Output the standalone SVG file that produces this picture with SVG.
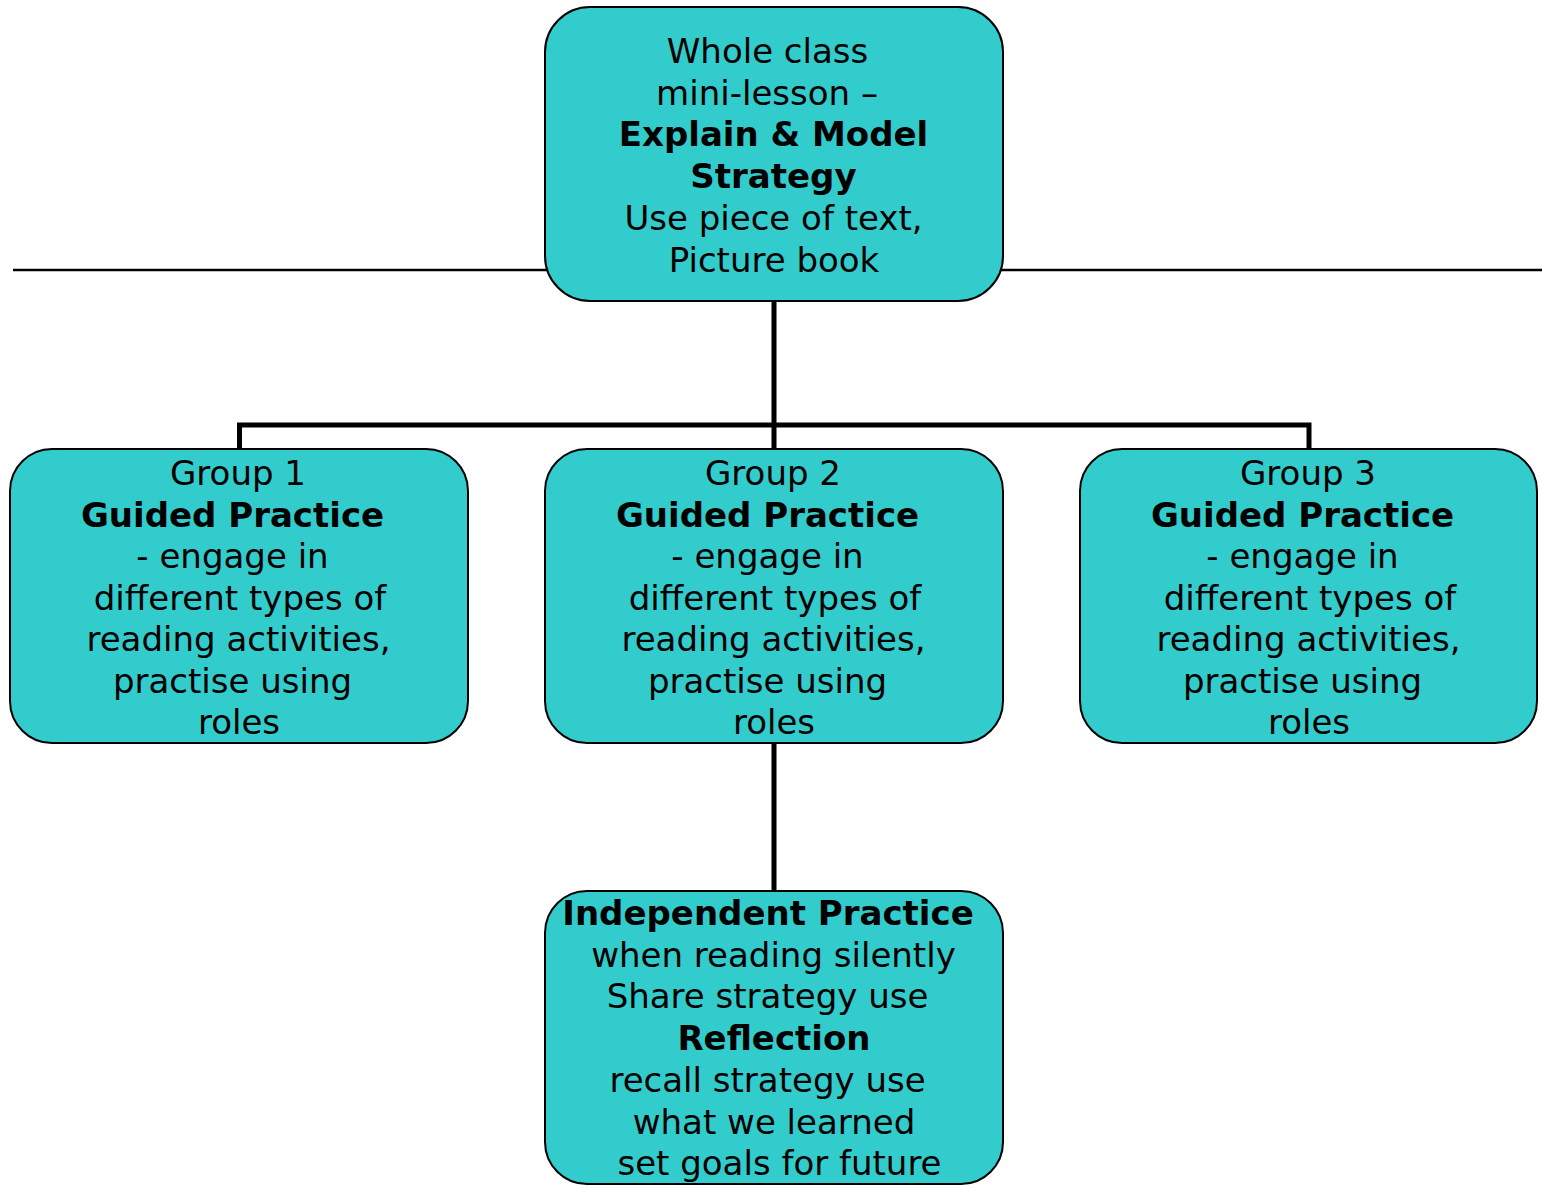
<svg xmlns="http://www.w3.org/2000/svg" width="1542" height="1185" viewBox="0 0 1542 1185">
<style>
.box{fill:#33CCCC;stroke:#000;stroke-width:2}
.conn{stroke:#000;stroke-width:5;fill:none}
.rule{stroke:#000;stroke-width:2.5;fill:none}
text{font-family:"DejaVu Sans","Verdana",sans-serif;font-size:34px;fill:#000;text-anchor:middle}
.b{font-weight:bold}
</style>
<rect width="1542" height="1185" fill="#fff"/>
<g id="connectors">
<line class="rule" x1="13" y1="270" x2="1542" y2="270"/>
<line class="conn" x1="774" y1="301" x2="774" y2="449"/>
<polyline class="conn" points="239.5,449 239.5,425 1309,425 1309,449"/>
<line class="conn" x1="774" y1="743" x2="774" y2="891"/>
</g>
<g id="node-top">
<rect class="box" x="545" y="7" width="458" height="294" rx="45" ry="45"/>
<text x="767.5" y="63">Whole class</text>
<text x="767" y="104.7">mini-lesson –</text>
<text x="773.5" y="146.4" class="b">Explain &amp; Model</text>
<text x="773.5" y="188" class="b">Strategy</text>
<text x="773.5" y="229.8">Use piece of text,</text>
<text x="774" y="271.5">Picture book</text>
</g>
<g id="node-group1">
<rect class="box" x="10" y="449" width="458" height="294" rx="42" ry="42"/>
<text x="238" y="485">Group 1</text>
<text x="232.5" y="526.5" class="b">Guided Practice</text>
<text x="232.5" y="568">- engage in</text>
<text x="240" y="609.5">different types of</text>
<text x="238.5" y="651">reading activities,</text>
<text x="232.5" y="692.5">practise using</text>
<text x="239" y="734">roles</text>
</g>
<g id="node-group2">
<rect class="box" x="545" y="449" width="458" height="294" rx="42" ry="42"/>
<text x="773" y="485">Group 2</text>
<text x="767.5" y="526.5" class="b">Guided Practice</text>
<text x="767.5" y="568">- engage in</text>
<text x="775" y="609.5">different types of</text>
<text x="773.5" y="651">reading activities,</text>
<text x="767.5" y="692.5">practise using</text>
<text x="774" y="734">roles</text>
</g>
<g id="node-group3">
<rect class="box" x="1080" y="449" width="457" height="294" rx="42" ry="42"/>
<text x="1308" y="485">Group 3</text>
<text x="1302.5" y="526.5" class="b">Guided Practice</text>
<text x="1302.5" y="568">- engage in</text>
<text x="1310" y="609.5">different types of</text>
<text x="1308.5" y="651">reading activities,</text>
<text x="1302.5" y="692.5">practise using</text>
<text x="1309" y="734">roles</text>
</g>
<g id="node-independent">
<rect class="box" x="545" y="891" width="458" height="293" rx="42" ry="42"/>
<text x="768" y="925" class="b">Independent Practice</text>
<text x="773.5" y="966.7">when reading silently</text>
<text x="767.5" y="1008.4">Share strategy use</text>
<text x="774" y="1050" class="b">Reflection</text>
<text x="767.5" y="1091.8">recall strategy use</text>
<text x="774" y="1133.5">what we learned</text>
<text x="779.5" y="1175">set goals for future</text>
</g>
</svg>
